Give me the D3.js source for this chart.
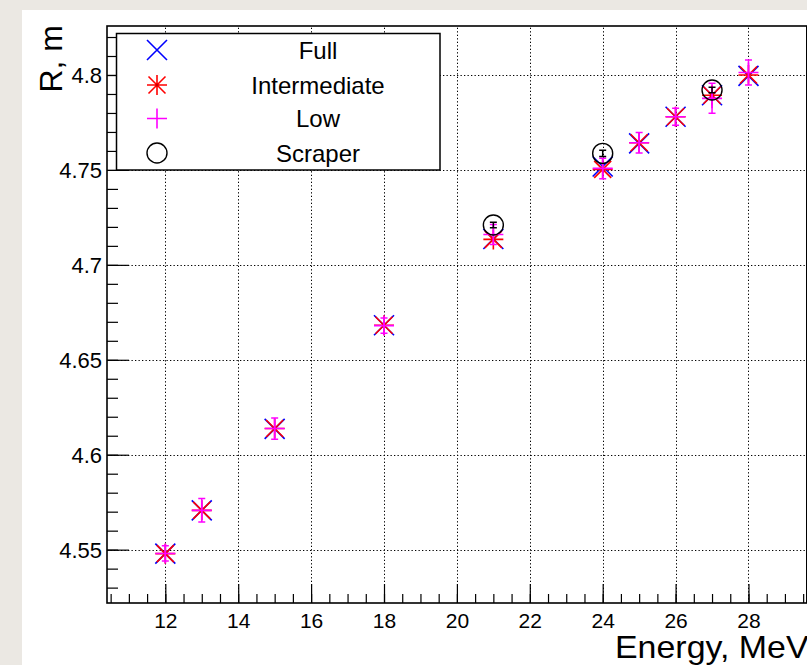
<!DOCTYPE html>
<html>
<head>
<meta charset="utf-8">
<script src="https://cdn.jsdelivr.net/npm/d3@7"></script>
<style>
  html, body { margin: 0; padding: 0; background: #ebe8e3; }
  svg { display: block; }
  text { font-family: "Liberation Sans", Arial, Helvetica, sans-serif; fill: #000; }
</style>
</head>
<body>
<svg id="chart" width="807" height="665"></svg>
<script>
// Beam energy (MeV) and fitted radius (m) for each configuration
const energy = [12, 13, 15, 18, 21, 24, 25, 26, 27, 28];
const fullR = [4.5479, 4.5707, 4.6136, 4.6682, 4.7136, 4.7518, 4.7640, 4.7780, 4.7893, 4.7995];
const intermediateR = [4.5479, 4.5707, 4.6138, 4.6682, 4.7134, 4.7503, 4.7643, 4.7780, 4.7893, 4.8000];
const lowR = [4.5480, 4.5707, 4.6138, 4.6680, 4.7160, 4.7508, 4.7643, 4.7780, 4.7877, 4.8013];
const lowErr = [0.0040, 0.0062, 0.0056, 0.0040, 0.0053, 0.0054, 0.0054, 0.0045, 0.0079, 0.0066];
const scraperEnergy = [21, 24, 27];
const scraperR = [4.7210, 4.7587, 4.7921];
const scraperErr = [0.0015, 0.0016, 0.0015];

const xTicks = [12, 14, 16, 18, 20, 22, 24, 26, 28];
const yTicks = [4.55, 4.6, 4.65, 4.7, 4.75, 4.8];
const yTickLabels = ["4.55", "4.6", "4.65", "4.7", "4.75", "4.8"];
const legendNames = ["Full", "Intermediate", "Low", "Scraper"];

const svg = d3.select("#chart");
const W = 807, H = 665;

// page and canvas
svg.append("rect").attr("width", W).attr("height", H).attr("fill", "#ebe8e3");
svg.append("rect").attr("x", 22).attr("y", 10).attr("width", W - 22).attr("height", H - 10).attr("fill", "#fff");

const frame = { left: 107, right: 806.8, top: 26, bottom: 603 };
const x = d3.scaleLinear().domain([10.4, 29.6]).range([frame.left, frame.right]);
const y = d3.scaleLinear().domain([4.5219, 4.8258]).range([frame.bottom, frame.top]);

// dotted grid at major ticks
const grid = svg.append("g").attr("stroke", "#000").attr("stroke-width", 1).attr("stroke-dasharray", "1.3,2.2");
grid.selectAll(".gx").data(xTicks).join("line")
  .attr("x1", d => Math.round(x(d)) + 0.5).attr("x2", d => Math.round(x(d)) + 0.5)
  .attr("y1", frame.bottom).attr("y2", frame.top);
grid.selectAll(".gy").data(yTicks).join("line")
  .attr("y1", d => Math.round(y(d)) + 0.5).attr("y2", d => Math.round(y(d)) + 0.5)
  .attr("x1", frame.left).attr("x2", frame.right);

// axes with inward ticks
const xMinor = d3.range(21, 60).map(i => i / 2).filter(v => v > 10.4 && v < 29.6);
const yMinor = d3.range(453, 483).map(i => i / 100).filter(v => v > 4.5219 && v < 4.8258);

const xAxis = d3.axisBottom(x).tickValues(xMinor).tickSize(-9).tickFormat("");
const xAxisMajor = d3.axisBottom(x).tickValues(xTicks).tickSize(-19).tickPadding(25).tickFormat(d3.format("d"));
const yAxis = d3.axisLeft(y).tickValues(yMinor).tickSize(-11).tickFormat("");
const yAxisMajor = d3.axisLeft(y).tickValues(yTicks).tickSize(-22).tickPadding(5)
  .tickFormat((d, i) => yTickLabels[i]);

function styleAxis(g) {
  g.select(".domain").remove();
  g.selectAll(".tick line").attr("stroke", "#000").attr("stroke-width", 1.2);
}
svg.append("g").attr("transform", `translate(0,${frame.bottom})`).call(xAxis).call(styleAxis);
const gx = svg.append("g").attr("transform", `translate(0,${frame.bottom})`).call(xAxisMajor).call(styleAxis);
gx.selectAll(".tick text").attr("font-size", 21).attr("dy", 0).attr("font-family", null);
svg.append("g").attr("transform", `translate(${frame.left},0)`).call(yAxis).call(styleAxis);
const gy = svg.append("g").attr("transform", `translate(${frame.left},0)`).call(yAxisMajor).call(styleAxis);
gy.selectAll(".tick text").attr("font-size", 22).attr("dy", "0.36em").attr("font-family", null);

// frame
svg.append("rect").attr("x", frame.left).attr("y", frame.top)
  .attr("width", frame.right - frame.left).attr("height", frame.bottom - frame.top)
  .attr("fill", "none").attr("stroke", "#000").attr("stroke-width", 1.6);

// axis titles
svg.append("text").attr("transform", "translate(615,658) scale(1.06,1)").attr("text-anchor", "start")
  .attr("font-size", 32).text("Energy, MeV");
svg.append("text").attr("transform", "translate(62,25) rotate(-90)").attr("text-anchor", "end")
  .attr("font-size", 32).text("R, m");

// marker shapes
const S = 10;
function drawMarker(g, kind, cx, cy) {
  const m = g.append("g").attr("transform", `translate(${cx},${cy})`).attr("fill", "none").attr("stroke-width", 1.6);
  if (kind === "x") {
    m.attr("stroke", "#0000ff");
    m.append("path").attr("d", `M${-S},${-S}L${S},${S}M${-S},${S}L${S},${-S}`);
  } else if (kind === "star") {
    m.attr("stroke", "#ff0000");
    const d = S * 0.85;
    m.append("path").attr("d", `M${-S},0L${S},0M0,${-S}L0,${S}M${-d},${-d}L${d},${d}M${-d},${d}L${d},${-d}`);
    m.append("circle").attr("r", 1.3).attr("fill", "#cc0000").attr("stroke", "none");
  } else if (kind === "plus") {
    m.attr("stroke", "#ff00ff");
    m.append("path").attr("d", `M${-S},0L${S},0M0,${-S}L0,${S}`);
  } else if (kind === "circle") {
    m.attr("stroke", "#000");
    m.append("circle").attr("r", S).attr("stroke-width", 1.4);
  }
}

function errorBars(g, xs, ys, es, color) {
  const cap = 3.5;
  xs.forEach((xv, i) => {
    const cx = x(xv), y1 = y(ys[i] + es[i]), y2 = y(ys[i] - es[i]);
    g.append("path").attr("stroke", color).attr("stroke-width", 1.5).attr("fill", "none")
      .attr("d", `M${cx},${y1}L${cx},${y2}M${cx - cap},${y1}L${cx + cap},${y1}M${cx - cap},${y2}L${cx + cap},${y2}`);
  });
}

const plot = svg.append("g");
energy.forEach((e, i) => drawMarker(plot, "x", x(e), y(fullR[i])));
energy.forEach((e, i) => drawMarker(plot, "star", x(e), y(intermediateR[i])));
errorBars(plot, energy, lowR, lowErr, "#ff00ff");
energy.forEach((e, i) => drawMarker(plot, "plus", x(e), y(lowR[i])));
errorBars(plot, scraperEnergy, scraperR, scraperErr, "#000");
scraperEnergy.forEach((e, i) => drawMarker(plot, "circle", x(e), y(scraperR[i])));

// legend
const leg = svg.append("g");
leg.append("rect").attr("x", 116.5).attr("y", 33.5).attr("width", 323.5).attr("height", 136.5)
  .attr("fill", "#fff").attr("stroke", "#000").attr("stroke-width", 1.5);
const kinds = ["x", "star", "plus", "circle"];
const rowY = [50, 85, 118.5, 153];
legendNames.forEach((name, i) => {
  drawMarker(leg, kinds[i], 157, rowY[i]);
  leg.append("text").attr("x", 318).attr("y", rowY[i]).attr("dy", "0.36em")
    .attr("text-anchor", "middle").attr("font-size", 24).text(name);
});
</script>
</body>
</html>
